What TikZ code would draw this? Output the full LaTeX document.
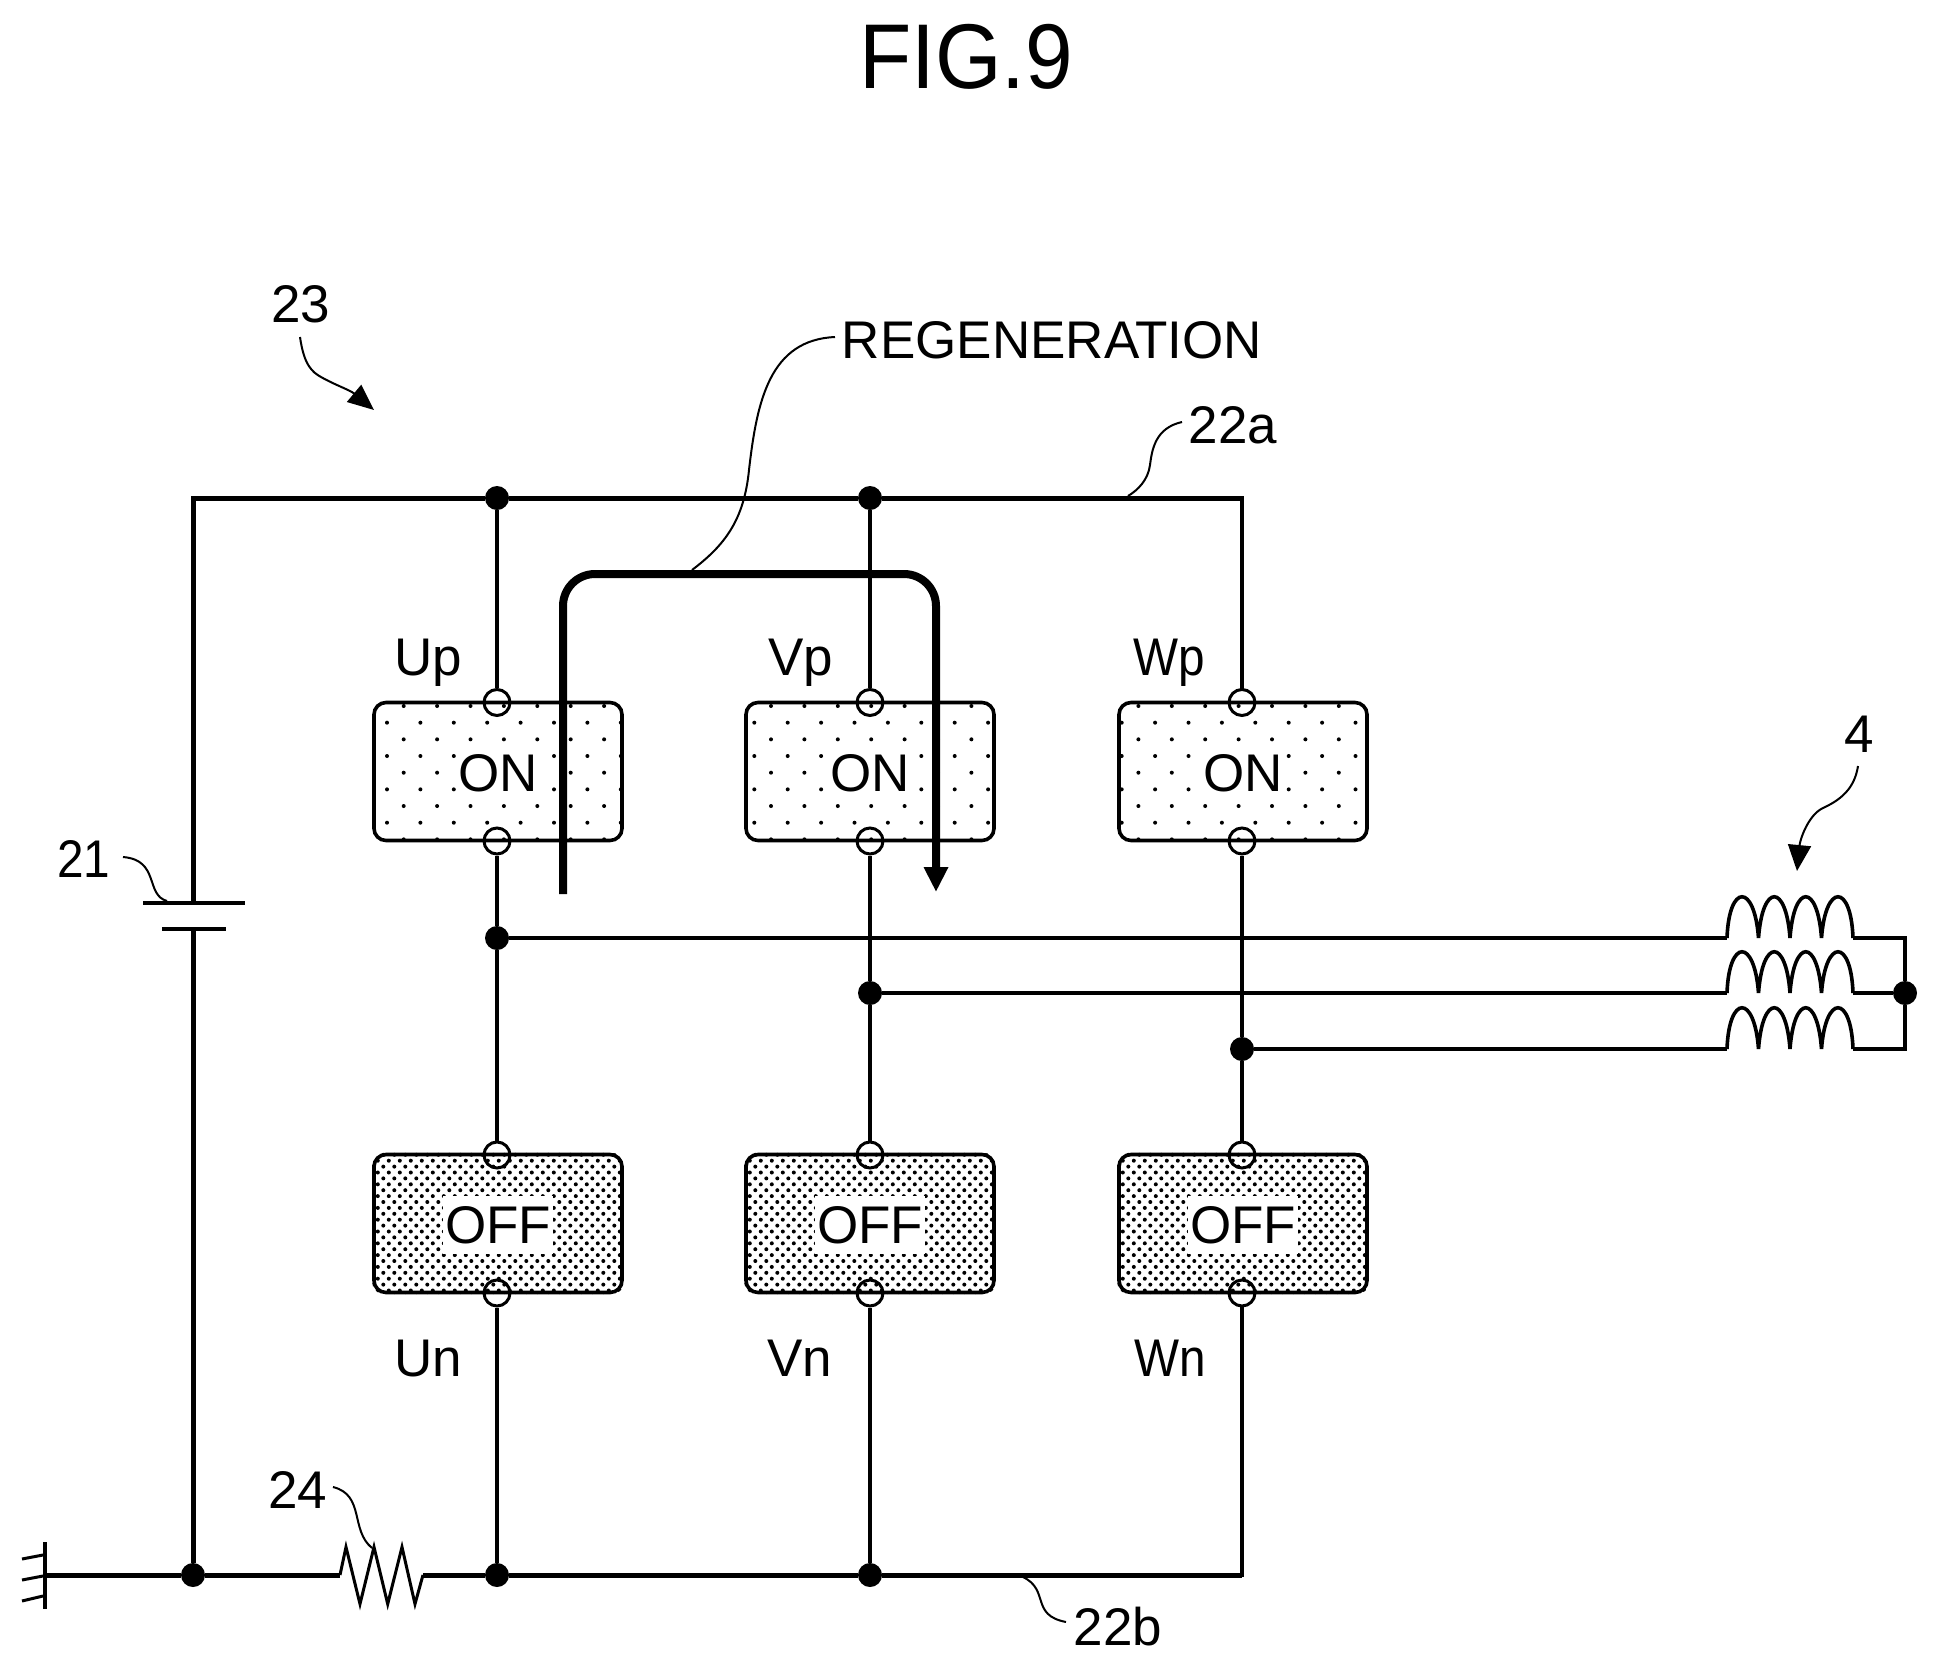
\documentclass[tikz,border=0pt]{standalone}
\usepackage{fontspec}
\setmainfont{Liberation Sans}
\usetikzlibrary{arrows.meta}

\newcommand{\dotfield}[7]{%
\begin{scope}
\clip[rounded corners=6pt] (#1.south west) rectangle (#1.north east);
\foreach \j in {0,...,#7}{\foreach \k in {0,...,#6}{%
\pgfmathsetmacro{\dotx}{#2+\k*#4+0.5*#4*(1-mod(\j,2))}
\pgfmathsetmacro{\doty}{#3+\j*#5}
\fill (\dotx,\doty) circle (2);
}}
\end{scope}}

\newcommand{\coil}[1]{%
\draw[line width=1.8pt] (#1)
 .. controls +(2,-55) and +(-4,-55) .. ++(31.5,0)
 .. controls +(4,-55) and +(-4,-55) .. ++(31.5,0)
 .. controls +(4,-55) and +(-4,-55) .. ++(31.5,0)
 .. controls +(4,-55) and +(-2,-55) .. ++(31.5,0);}

\tikzset{
  wire/.style={line width=2.5pt},
  phase/.style={line width=2pt},
  leader/.style={line width=1pt},
  tag/.style={font=\fontsize{26.5}{30}\selectfont,inner sep=0pt,anchor=base},
  jnt/.style={circle,fill=black,inner sep=0pt,minimum size=12pt},
  term/.style={circle,draw,line width=1.5pt,inner sep=0pt,minimum size=13pt},
  sw/.style={draw,line width=1.8pt,rounded corners=6pt,minimum width=124pt,minimum height=69pt,inner sep=0pt},
  ontext/.style={font=\fontsize{26.5}{30}\selectfont,fill=white,inner xsep=1pt,inner ysep=1pt,yshift=-0.8pt},
  offtext/.style={font=\fontsize{26.5}{30}\selectfont,fill=white,inner xsep=1pt,inner ysep=5pt,yshift=-0.8pt}
}

\begin{document}
\begin{tikzpicture}[x=0.5pt,y=-0.5pt]
\useasboundingbox (0,0) rectangle (1938,1665);

\node[font=\fontsize{46}{50}\selectfont,inner sep=0pt,anchor=base] (fig) at (966,88) {\scalebox{0.93}[1]{FIG.9}};

% Switches
\node[sw] (Up) at (498,771.5) {};
\node[sw] (Vp) at (870,771.5) {};
\node[sw] (Wp) at (1243,771.5) {};
\node[sw] (Un) at (498,1223.5) {};
\node[sw] (Vn) at (870,1223.5) {};
\node[sw] (Wn) at (1243,1223.5) {};

\dotfield{Up}{387}{706}{33.4}{16.67}{7}{8}
\dotfield{Vp}{754.3}{706}{33.4}{16.67}{7}{8}
\dotfield{Wp}{1121.7}{706}{33.4}{16.67}{7}{8}
\dotfield{Un}{372.3}{1148.9}{11}{5.9}{23}{26}
\dotfield{Vn}{744.3}{1148.9}{11}{5.9}{23}{26}
\dotfield{Wn}{1117.3}{1148.9}{11}{5.9}{23}{26}

\node[ontext] (Upt) at (Up) {ON};
\node[ontext] (Vpt) at (Vp) {ON};
\node[ontext] (Wpt) at (Wp) {ON};
\node[offtext] (Unt) at (Un) {OFF};
\node[offtext] (Vnt) at (Vn) {OFF};
\node[offtext] (Wnt) at (Wn) {OFF};

% Terminals
\node[term] (Up1) at (497,702.5) {};
\node[term] (Up2) at (497,841) {};
\node[term] (Vp1) at (870,702.5) {};
\node[term] (Vp2) at (870,841) {};
\node[term] (Wp1) at (1242,702.5) {};
\node[term] (Wp2) at (1242,841) {};
\node[term] (Un1) at (497,1155) {};
\node[term] (Un2) at (497,1293) {};
\node[term] (Vn1) at (870,1155) {};
\node[term] (Vn2) at (870,1293) {};
\node[term] (Wn1) at (1242,1155) {};
\node[term] (Wn2) at (1242,1293) {};

% Junctions
\node[jnt] (jUt) at (497,498) {};
\node[jnt] (jVt) at (870,498) {};
\node[jnt] (jU) at (497,938) {};
\node[jnt] (jV) at (870,993) {};
\node[jnt] (jW) at (1242,1049) {};
\node[jnt] (jN) at (1905,993) {};
\node[jnt] (jB) at (193,1575) {};
\node[jnt] (jUb) at (497,1575) {};
\node[jnt] (jVb) at (870,1575) {};

\coordinate (railtl) at (193,498);
\coordinate (railtr) at (1242,498);
\coordinate (railbr) at (1242,1575);
\coordinate (batp) at (193,903);
\coordinate (batn) at (193,929);
\coordinate (batpl) at (143,903);
\coordinate (batpr) at (245,903);
\coordinate (batnl) at (162,929);
\coordinate (batnr) at (226,929);
\coordinate (gnd) at (45,1575);
\coordinate (gndt) at (45,1542);
\coordinate (gndb) at (45,1609);
\coordinate (resa) at (340,1575);
\coordinate (resb) at (423,1575);
\coordinate (LUa) at (1727,938);
\coordinate (LVa) at (1727,993);
\coordinate (LWa) at (1727,1049);
\coordinate (LUb) at (1853,938);
\coordinate (LVb) at (1853,993);
\coordinate (LWb) at (1853,1049);
\coordinate (busU) at (1905,938);
\coordinate (busW) at (1905,1049);

% Rails and battery
\draw[wire] (batp) -- (railtl) -- (jUt) -- (jVt) -- (railtr);
\draw[phase,line cap=rect] (railtr) -- (Wp1);
\draw[wire] (batn) -- (jB);
\draw[line width=2.25pt] (batpl) -- (batpr);
\draw[line width=1.75pt] (batnl) -- (batnr);
\draw[wire] (gnd) -- (jB) -- (resa);
\draw[wire] (resb) -- (jUb) -- (jVb) -- (railbr);
\draw[phase,line cap=rect] (railbr) -- (Wn2);
\draw[phase] (jUt) -- (Up1);
\draw[phase] (jVt) -- (Vp1);
\draw[phase] (Un2) -- (jUb);
\draw[phase] (Vn2) -- (jVb);
\draw[phase] (Up2) -- (jU) -- (Un1);
\draw[phase] (Vp2) -- (jV) -- (Vn1);
\draw[phase] (Wp2) -- (jW) -- (Wn1);

% Ground
\draw[line width=1.75pt] (gndt) -- (gndb);
\draw[line width=1.5pt] (43,1555) -- (22,1559);
\draw[line width=1.5pt] (43,1576) -- (22,1580);
\draw[line width=1.5pt] (43,1596) -- (22,1601);

% Resistor
\draw[line width=1.5pt,line join=miter] (resa) -- (346,1547) -- (360,1604) -- (374,1547) -- (387.7,1604) -- (402,1547) -- (415,1604) -- (resb);

% Motor windings
\draw[phase] (jU) -- (LUa);
\draw[phase] (jV) -- (LVa);
\draw[phase] (jW) -- (LWa);
\coil{LUa}
\coil{LVa}
\coil{LWa}
\draw[phase] (LUb) -- (busU) -- (jN);
\draw[phase] (LVb) -- (jN);
\draw[phase] (LWb) -- (busW) -- (jN);

% Regeneration path
\coordinate (regs) at (563,894);
\coordinate (rege) at (936,892);
\draw[line width=4pt,rounded corners=16pt,-{Triangle[length=12.5pt,width=11.5pt]}] (regs) -- (563,574) -- (936,574) -- (rege);

% Labels
\node[tag] (l23) at (301,322) {23};
\node[tag] (lreg) at (1052,358) {REGENERATION};
\node[tag] (l22a) at (1233,443) {22a};
\node[tag] (l21) at (84,877) {\scalebox{0.9}[1]{21}};
\node[tag] (l24) at (297.5,1508) {24};
\node[tag] (l22b) at (1118,1645) {22b};
\node[tag] (l4) at (1859,752) {4};
\node[tag] (lUp) at (428,675) {Up};
\node[tag] (lVp) at (801,675) {Vp};
\node[tag] (lWp) at (1169,675) {\scalebox{0.9}[1]{Wp}};
\node[tag] (lUn) at (428,1376) {Un};
\node[tag] (lVn) at (800,1376) {Vn};
\node[tag] (lWn) at (1170,1376) {\scalebox{0.9}[1]{Wn}};

% Leaders
\draw[leader] (835,337) .. controls (770,340) and (757,400) .. (749,470) .. controls (744,520) and (725,545) .. (692,570);
\draw[leader] (1182,422) .. controls (1155,428) and (1152,450) .. (1150,465) .. controls (1148,480) and (1138,490) .. (1128,496);
\draw[leader] (123,857) .. controls (160,860) and (145,895) .. (167,901);
\draw[leader] (333,1487) .. controls (365,1495) and (350,1530) .. (372,1548);
\draw[leader] (1023,1577) .. controls (1050,1590) and (1030,1615) .. (1066,1622);
\draw[leader,-{Triangle[length=13pt,width=11pt]}] (300,337) .. controls (304,365) and (312,372) .. (321,377) .. controls (335,385) and (350,390) .. (374,410);
\draw[leader,-{Triangle[length=13pt,width=11.5pt]}] (1858,766) .. controls (1855,785) and (1845,798) .. (1823,808) .. controls (1808,815) and (1800,840) .. (1797,871);
\end{tikzpicture}
\end{document}
